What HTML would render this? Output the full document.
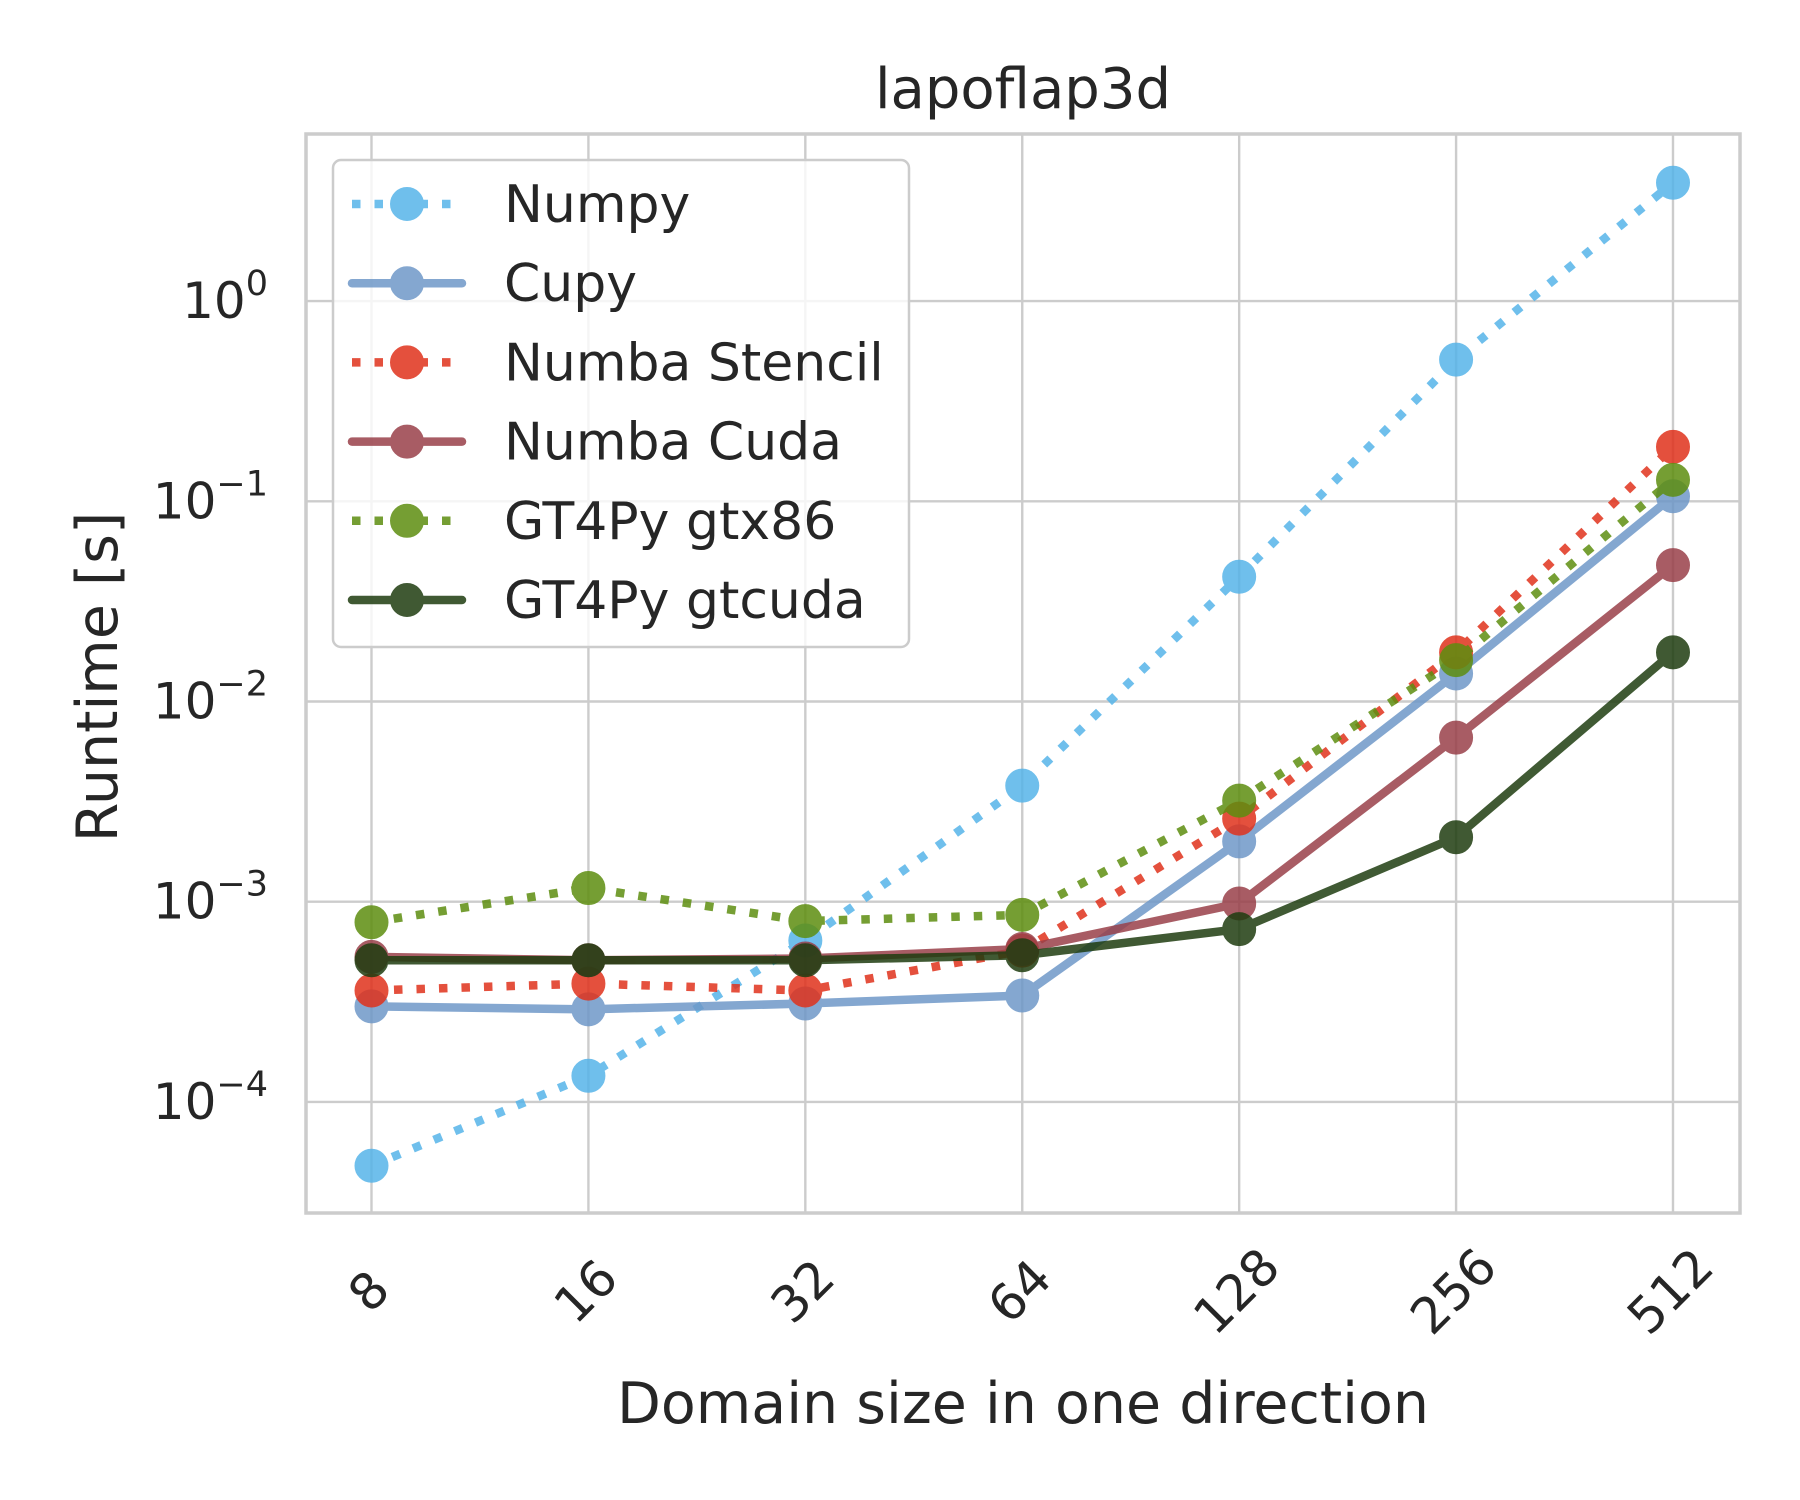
<!DOCTYPE html>
<html><head><meta charset="utf-8"><style>
html,body{margin:0;padding:0;background:#fff;}
svg{display:block;font-family:"DejaVu Sans","Liberation Sans",sans-serif;}
</style></head><body>
<svg id="chart" width="1800" height="1500" viewBox="0 0 1800 1500" xmlns="http://www.w3.org/2000/svg"></svg>
<script>
const categories = ["8","16","32","64","128","256","512"];
const seriesNames = ["Numpy","Cupy","Numba Stencil","Numba Cuda","GT4Py gtx86","GT4Py gtcuda"];
const numpyVals = [4.8e-5,1.35e-4,6.4e-4,3.8e-3,0.042,0.51,3.9];
const cupyVals = [3.0e-4,2.9e-4,3.1e-4,3.4e-4,2.0e-3,0.0138,0.106];
const stencilVals = [3.6e-4,3.9e-4,3.6e-4,5.7e-4,2.6e-3,0.0176,0.187];
const cudaVals = [5.3e-4,5.1e-4,5.2e-4,5.8e-4,9.8e-4,6.6e-3,0.048];
const gtx86Vals = [7.9e-4,1.17e-3,8.0e-4,8.6e-4,3.2e-3,0.0161,0.128];
const gtcudaVals = [5.1e-4,5.1e-4,5.1e-4,5.4e-4,7.3e-4,2.1e-3,0.0176];
const yTickExps = [0,-1,-2,-3,-4];

const NS="http://www.w3.org/2000/svg";
const svg=document.getElementById('chart');
const L=306,R=1740,T=134,B=1213;
const x0=371.5,x1=1673;
const xScale=i=>x0+(x1-x0)*i/(categories.length-1);
const y0=301.1,dec=200.2;
const yScale=v=>y0-Math.log10(v)*dec;
function mk(tag,attrs,parent){const e=document.createElementNS(NS,tag);for(const k in attrs)e.setAttribute(k,attrs[k]);(parent||svg).appendChild(e);return e;}

mk('rect',{x:0,y:0,width:1800,height:1500,fill:'#fff'});
const grid=mk('g',{});


categories.forEach((c,i)=>{const l=mk('line',{x1:xScale(i),x2:xScale(i),y1:T,y2:B,stroke:'#cccccc','stroke-width':2.4},grid);

});
yTickExps.forEach(e=>{const y=yScale(Math.pow(10,e));const l=mk('line',{x1:L,x2:R,y1:y,y2:y,stroke:'#cccccc','stroke-width':2.4},grid);

});

const colors=["#56b4e9","#6f98c8","#e0321c","#994049","#5e8e10","#1f3d10"];
const dotted=[true,false,true,false,true,false];
const allVals=[numpyVals,cupyVals,stencilVals,cudaVals,gtx86Vals,gtcudaVals];
const plot=mk('g',{});


allVals.forEach((vals,s)=>{
  const g=mk('g',{opacity:0.85},plot);
  
  
  const pts=vals.map((v,i)=>xScale(i)+','+yScale(v)).join(' ');
  const pl=mk('polyline',{points:pts,fill:'none',stroke:colors[s],'stroke-width':8.5,'stroke-linejoin':'round','stroke-linecap':dotted[s]?'butt':'round','stroke-dasharray':dotted[s]?'8.5 14':'none'},g);
  
  
  vals.forEach((v,i)=>{const c=mk('circle',{cx:xScale(i),cy:yScale(v),r:16,fill:colors[s],stroke:colors[s],'stroke-width':2},g);
  
  });
});

const spine=mk('rect',{x:L,y:T,width:R-L,height:B-T,fill:'none',stroke:'#cccccc','stroke-width':3.5});



categories.forEach((c,i)=>{const t=mk('text',{x:0,y:0,'font-size':50,fill:'#262626','text-anchor':'middle',transform:`translate(${xScale(i)},${1294}) rotate(-45)`,'dominant-baseline':'middle'});t.textContent=c;

});
yTickExps.forEach(e=>{const y=yScale(Math.pow(10,e));const t=mk('text',{x:268,y:y+17,'font-size':50,fill:'#262626','text-anchor':'end'});
const a=mk('tspan',{},t);a.textContent='10';
const b=mk('tspan',{dy:-23,'font-size':35},t);b.textContent=e===0?'0':'\u2212'+(-e);

});

const title=mk('text',{x:1023,y:108,'font-size':56,fill:'#262626','text-anchor':'middle'});title.textContent='lapoflap3d';


const xl=mk('text',{x:1023,y:1423,'font-size':57,fill:'#262626','text-anchor':'middle'});xl.textContent='Domain size in one direction';


const yl=mk('text',{x:0,y:0,'font-size':57,fill:'#262626','text-anchor':'middle',transform:'translate(117,677) rotate(-90)'});yl.textContent='Runtime [s]';



const leg=mk('g',{});


mk('rect',{x:333,y:160,width:576,height:487,rx:8,fill:'#fff','fill-opacity':0.8,stroke:'#cccccc','stroke-width':2.5},leg);
seriesNames.forEach((n,s)=>{
  const y=204+s*79.2;
  const g=mk('g',{},leg);
  
  
  const gg=mk('g',{opacity:0.85},g);
  mk('line',{x1:352,x2:462,y1:y,y2:y,stroke:colors[s],'stroke-width':8.5,'stroke-linecap':dotted[s]?'butt':'round','stroke-dasharray':dotted[s]?'8.5 14':'none'},gg);
  mk('circle',{cx:407,cy:y,r:16,fill:colors[s],stroke:colors[s],'stroke-width':2},gg);
  const t=mk('text',{x:504,y:y+18,'font-size':52,fill:'#262626'},g);t.textContent=n;
});
</script>
</body></html>
